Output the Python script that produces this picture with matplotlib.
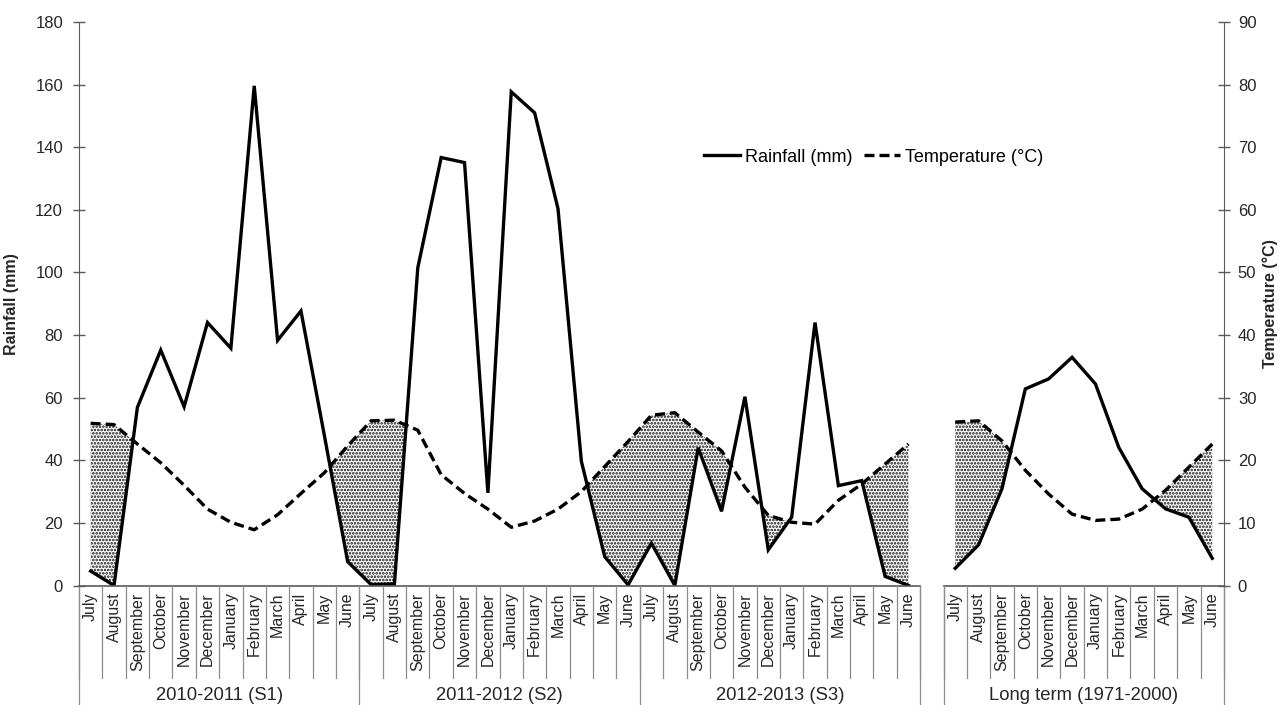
import numpy as np
import matplotlib
matplotlib.use('Agg')
import matplotlib.pyplot as plt
from matplotlib import transforms

plt.rcParams['font.family'] = ['Liberation Sans', 'DejaVu Sans']
plt.rcParams['hatch.linewidth'] = 1.25

months = ['July', 'August', 'September', 'October', 'November', 'December',
          'January', 'February', 'March', 'April', 'May', 'June']
groups = ['2010-2011 (S1)', '2011-2012 (S2)', '2012-2013 (S3)', 'Long term (1971-2000)']

rain_s1 = [4.6, 0, 56.9, 75.2, 57.1, 84.0, 75.8, 159.6, 78.3, 87.7, 48, 7.6]
rain_s2 = [0.3, 0.5, 101.5, 136.7, 135.1, 29.6, 157.7, 151.0, 120.4, 39.7, 9.2, 0.2]
rain_s3 = [13.5, 0, 44, 23.7, 60.3, 11.4, 21.8, 84.0, 31.9, 33.5, 2.9, 0]
rain_lt = [5.5, 13, 30.9, 62.8, 66, 72.9, 64.4, 44.1, 30.9, 24.5, 21.8, 8.7]

temp_s1 = [25.9, 25.7, 22.6, 19.6, 16.0, 12.2, 10.1, 8.9, 11.3, 14.7, 18.0, 22.3]
temp_s2 = [26.3, 26.4, 24.8, 17.7, 14.7, 12.2, 9.3, 10.3, 12.2, 15.0, 19.0, 23.0]
temp_s3 = [27.2, 27.6, 24.5, 21.5, 15.7, 11.2, 10.1, 9.8, 13.6, 16.2, 19.4, 22.6]
temp_lt = [26.1, 26.3, 23.1, 18.4, 14.6, 11.4, 10.4, 10.6, 12.2, 15.2, 18.9, 22.6]

# three seasons in a row, one blank category, then the long term block
rain_a = np.array(rain_s1 + rain_s2 + rain_s3)
temp_a = np.array(temp_s1 + temp_s2 + temp_s3)
x_a = np.arange(36)
rain_b = np.array(rain_lt)
temp_b = np.array(temp_lt)
x_b = np.arange(37, 49)

grey = '#595959'
txt = '#262626'
dash = (0, (3.0, 1.5))

fig = plt.figure(figsize=(12.8, 7.05), dpi=100)
ax = fig.add_axes([0.0617, 0.1695, 0.8945, 0.7993])
ax2 = ax.twinx()

for x, r, t in [(x_a, rain_a, temp_a), (x_b, rain_b, temp_b)]:
    ax.fill_between(x, r, 2 * t, where=2 * t >= r, interpolate=True,
                    facecolor='white', edgecolor='#111111', hatch='.....', linewidth=0)
    ax.plot(x, r, color='black', lw=2.4, solid_joinstyle='miter')
    ax2.plot(x, t, color='black', lw=2.4, ls=dash)

ax.set_xlim(-0.5, 48.5)
ax.set_ylim(0, 180)
ax2.set_ylim(0, 90)
ax.set_yticks(np.arange(0, 181, 20))
ax2.set_yticks(np.arange(0, 91, 10))

for a in (ax, ax2):
    a.spines['top'].set_visible(False)
    a.spines['bottom'].set_visible(False)
    a.spines['left'].set_color(grey)
    a.spines['right'].set_color(grey)
    a.tick_params(axis='y', colors=grey, labelcolor=txt, labelsize=12,
                  direction='inout', length=8, width=1)
ax.spines['right'].set_visible(False)
ax2.spines['left'].set_visible(False)
ax.tick_params(axis='y', pad=7.5)
ax2.tick_params(axis='y', pad=6)

ax.set_ylabel('Rainfall (mm)', fontsize=11.5, fontweight='bold', color=txt)
ax.yaxis.set_label_coords(-0.052, 0.5)
ax2.set_ylabel('Temperature (°C)', fontsize=11.5, fontweight='bold', color=txt)
ax2.yaxis.set_label_coords(1.034, 0.5)

# category axis with month labels
pos = list(x_a) + list(x_b)
ax.set_xticks(pos)
ax.set_xticklabels(months * 4, rotation=90, fontsize=11.5, color=txt)
ax.tick_params(axis='x', length=0, pad=5)

tr = transforms.blended_transform_factory(ax.transData, ax.transAxes)
for x0, x1 in [(-0.5, 35.5), (36.5, 48.5)]:
    ax.plot([x0, x1], [0, 0], color=grey, lw=1.2, transform=tr, clip_on=False)
    for k in np.arange(x0, x1 + 0.1, 1):
        ax.plot([k, k], [0, -0.164], color='#8c8c8c', lw=0.9, transform=tr, clip_on=False)
for k in [-0.5, 11.5, 23.5, 35.5, 36.5, 48.5]:
    ax.plot([k, k], [0, -0.215], color='#8c8c8c', lw=0.9, transform=tr, clip_on=False)
for c, g in zip([5.5, 17.5, 29.5, 42.5], groups):
    ax.text(c, -0.196, g, transform=tr, ha='center', va='center', fontsize=13.3, color=txt)

h1, = ax.plot([], [], color='black', lw=2.4, label='Rainfall (mm)')
h2, = ax.plot([], [], color='black', lw=2.4, ls=dash, label='Temperature (°C)')
ax.legend(handles=[h1, h2], loc='center', bbox_to_anchor=(0.694, 0.76), ncol=2,
          frameon=False, fontsize=13, handlelength=2.0, columnspacing=0.6, handletextpad=0.3)

fig.savefig('out.png', dpi=100)
